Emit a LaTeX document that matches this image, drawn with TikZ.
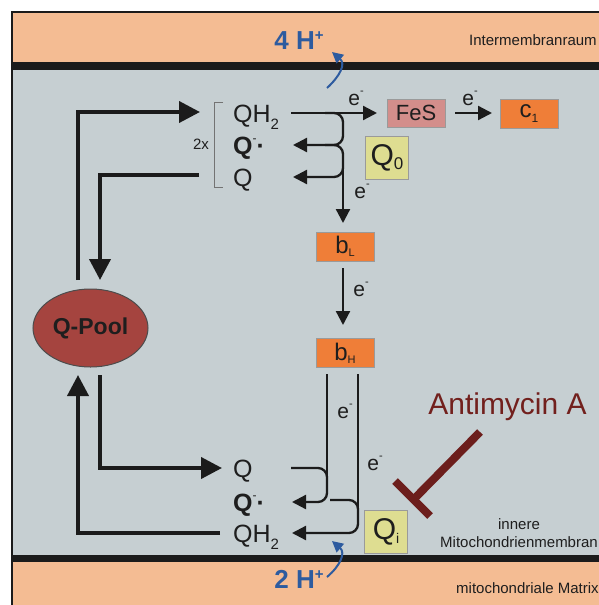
\documentclass[tikz,border=0pt]{standalone}
\usepackage{fontspec}
\setmainfont{Liberation Sans}
\usetikzlibrary{arrows.meta,shapes.geometric}
\definecolor{peach}{HTML}{F4BC93}
\definecolor{graybg}{HTML}{C6CFD2}
\definecolor{memb}{HTML}{1B1B1B}
\definecolor{hblue}{HTML}{2D5B9F}
\definecolor{boxorange}{HTML}{EF7E38}
\definecolor{fespink}{HTML}{D38E8B}
\definecolor{qyellow}{HTML}{DEDD91}
\definecolor{poolred}{HTML}{A5443F}
\definecolor{antired}{HTML}{72201D}
\definecolor{txt}{HTML}{1E1E1E}
\definecolor{boxline}{HTML}{9A9A9A}
\newcommand{\mysub}[3]{\raisebox{-#2pt}{\fontsize{#1}{#1}\selectfont #3}}
\newcommand{\mysup}[3]{\raisebox{#2pt}{\fontsize{#1}{#1}\selectfont #3}}
\begin{document}
\begin{tikzpicture}[x=1pt,y=-1pt,
  bigarrow/.style={draw=memb,line width=4pt,-{Triangle[length=21pt,width=21pt]}},
  thinarrow/.style={draw=memb,line width=2.3pt,-{Triangle[length=14pt,width=14pt]}},
  thinline/.style={draw=memb,line width=2.3pt},
  harrow/.style={draw=hblue,line width=2pt,-{Triangle[length=11pt,width=11pt]}},
  qtext/.style={anchor=base west,inner sep=0pt,text=txt,font=\fontsize{25}{30}\selectfont},
  etext/.style={inner sep=0pt,text=txt,font=\fontsize{21}{25}\selectfont},
  smalltext/.style={inner sep=0pt,text=txt,font=\fontsize{15}{18}\selectfont},
  hplus/.style={inner sep=0pt,text=hblue,font=\fontsize{26}{30}\selectfont\bfseries},
  cytbox/.style={draw=boxline,line width=1pt,fill=boxorange,inner sep=0pt,minimum width=58pt,minimum height=29pt,text=txt,font=\fontsize{24}{27}\selectfont},
  sitebox/.style={draw=boxline,line width=1pt,fill=qyellow,inner sep=0pt,minimum width=43pt,minimum height=43pt,text=txt,font=\fontsize{30}{33}\selectfont}
]
\useasboundingbox (0,0) rectangle (599,605);
\fill[white] (0,0) rectangle (599,605);
\begin{scope}
\clip (0,0) rectangle (599,605);
\fill[peach] (12,12) rectangle (610,63);
\fill[graybg] (12,66) rectangle (610,558);
\fill[peach] (12,559) rectangle (610,615);
\fill[memb] (12,62) rectangle (610,70);
\fill[memb] (12,555) rectangle (610,562);
\draw[memb,line width=2pt] (12,615) -- (12,12) -- (610,12);

% compartment labels
\node[smalltext,anchor=west] (imr) at (469,40) {Intermembranraum};
\node[smalltext,anchor=west] (matrix) at (456,588) {mitochondriale Matrix};
\node[smalltext,align=center] (membr) at (519,533) {innere\\Mitochondrienmembran};

% proton labels
\node[hplus] (h4) at (299,41) {4 H\mysup{15}{9}{+}};
\node[hplus] (h2) at (299,579) {2 H\mysup{15}{9}{+}};
\coordinate (h4s) at (327,88);
\coordinate (h4e) at (332,52);
\coordinate (h2s) at (327,577);
\coordinate (h2e) at (332,541);
\draw[harrow] (h4s) .. controls (340,76) and (346,64) .. (h4e);
\draw[harrow] (h2s) .. controls (340,566) and (346,553) .. (h2e);

% Q-Pool
\node[ellipse,draw=black!70,line width=1pt,fill=poolred,minimum width=115pt,minimum height=78pt,inner sep=0pt,text=txt,font=\fontsize{23}{27}\selectfont\bfseries] (pool) at (90.5,328) {Q-Pool};

% Qo site species
\node[qtext] (qh2top) at (233,122) {QH\mysub{15}{7}{2}};
\node[qtext] (qrtop) at (233,154) {\textbf{Q}\mysup{12}{12}{-}\textbf{·}};
\node[qtext] (qtop) at (233,186) {Q};
\draw[black!55,line width=1pt] (223,102) -- (214,102) -- (214,187) -- (223,187);
\node[smalltext] (twox) at (201,144) {2x};

% Qi site species
\node[qtext] (qbot) at (233,477) {Q};
\node[qtext] (qrbot) at (233,511) {\textbf{Q}\mysup{12}{12}{-}\textbf{·}};
\node[qtext] (qh2bot) at (233,542) {QH\mysub{15}{7}{2}};

% boxes
\node[draw=boxline,line width=1pt,fill=fespink,inner sep=0pt,minimum width=58pt,minimum height=28pt,text=txt,font=\fontsize{22}{26}\selectfont] (fes) at (416,113) {FeS};
\node[cytbox] (c1) at (529,113.5) {c\mysub{12}{5}{1}};
\node[sitebox] (q0) at (387,157.5) {Q\mysub{17}{4}{0}};
\node[cytbox] (bl) at (345,246.5) {b\mysub{11}{3}{L}};
\node[cytbox] (bh) at (345,353) {b\mysub{11}{3}{H}};
\node[sitebox] (qi) at (386,531.5) {Q\mysub{14}{4}{i}};

% Q cycle with the pool
\coordinate (pl1) at (78,280);
\coordinate (pl2) at (100,280);
\coordinate (pl3) at (100,375);
\coordinate (pl4) at (78,375);
\draw[bigarrow] (pl1) -- (78,112) -- (200,112);
\draw[bigarrow] (199,175) -- (100,175) -- (pl2);
\draw[bigarrow] (pl3) -- (100,468) -- (222,468);
\draw[bigarrow] (220,533) -- (78,533) -- (pl4);

% Qo reactions
\draw[thinarrow] (291,113) -- (377,113);
\draw[thinarrow] (455,113) -- (492,113);
\draw[thinline,rounded corners=9pt] (325,113) -- (343,113) -- (343,145) -- (307,145);
\draw[thinarrow] (310,145) -- (293,145);
\draw[thinline,rounded corners=9pt] (325,145) -- (343,145) -- (343,177) -- (307,177);
\draw[thinarrow] (310,177) -- (293,177);
\draw[thinarrow] (343,160) -- (343,223);
\draw[thinarrow] (343,268) -- (343,325);

% Qi reactions
\draw[thinline] (327,374) -- (327,485);
\draw[thinline,rounded corners=9pt] (291,468) -- (327,468) -- (327,502) -- (306,502);
\draw[thinarrow] (309,502) -- (292,502);
\draw[thinline] (358,374) -- (358,520);
\draw[thinline,rounded corners=9pt] (330,500) -- (358,500) -- (358,533) -- (306,533);
\draw[thinarrow] (309,533) -- (292,533);

% electron labels
\node[etext] (e1) at (356,98) {e\mysup{11}{11}{-}};
\node[etext] (e2) at (470,98) {e\mysup{11}{11}{-}};
\node[etext] (e3) at (362,191) {e\mysup{11}{11}{-}};
\node[etext] (e4) at (361,289) {e\mysup{11}{11}{-}};
\node[etext] (e5) at (345,411) {e\mysup{11}{11}{-}};
\node[etext] (e6) at (375,463) {e\mysup{11}{11}{-}};

% Antimycin A
\node[inner sep=0pt,text=antired,font=\fontsize{30}{34}\selectfont] (anti) at (507.5,407) {Antimycin A};
\coordinate (ia) at (480,432);
\coordinate (ib) at (413,500);
\draw[draw=antired!95!black,line width=8pt] (ia) -- (ib);
\draw[draw=antired!95!black,line width=8pt] (395,481) -- (430,516);
\end{scope}
\end{tikzpicture}
\end{document}
